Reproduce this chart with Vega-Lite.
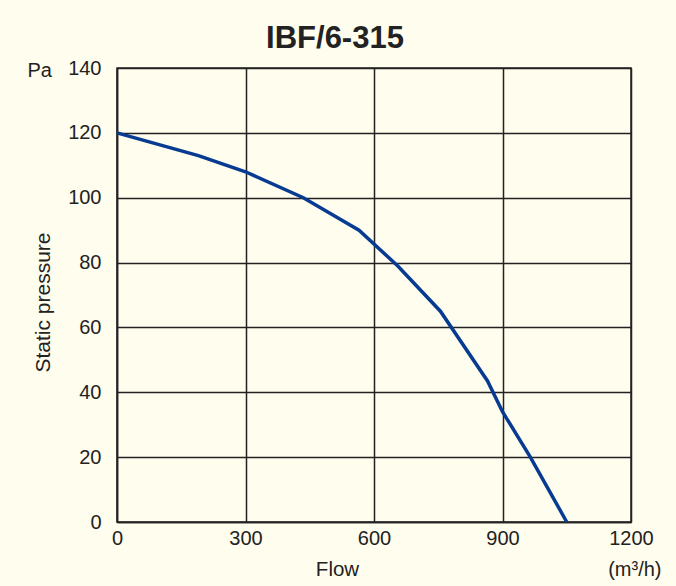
{
  "$schema": "https://vega.github.io/schema/vega-lite/v6.json",
  "autosize": "none",
  "width": 514,
  "height": 454,
  "padding": {"left": 117, "top": 68, "right": 45, "bottom": 64},
  "background": "#fffdee",
  "title": {
    "text": "IBF/6-315",
    "font": "Liberation Sans",
    "fontSize": 31,
    "fontWeight": "bold",
    "color": "#222222",
    "anchor": "middle",
    "baseline": "alphabetic",
    "dx": -39,
    "dy": 41,
    "offset": 20
  },
  "config": {
    "view": {"stroke": "#222222", "strokeWidth": 1.5, "fill": "#fffdee"},
    "axis": {"labelFont": "Liberation Sans", "titleFont": "Liberation Sans"}
  },
  "data": {
    "values": [
      {"flow": 0, "pressure": 120},
      {"flow": 190, "pressure": 113},
      {"flow": 300, "pressure": 108},
      {"flow": 435, "pressure": 100},
      {"flow": 565, "pressure": 90},
      {"flow": 655, "pressure": 79},
      {"flow": 755, "pressure": 65},
      {"flow": 865, "pressure": 43.5},
      {"flow": 900, "pressure": 34},
      {"flow": 965, "pressure": 20},
      {"flow": 1050, "pressure": 0}
    ]
  },
  "layer": [
    {
      "mark": {"type": "line", "color": "#073b92", "strokeWidth": 3.5},
      "encoding": {
        "x": {
          "field": "flow", "type": "quantitative",
          "scale": {"domain": [0, 1200], "nice": false, "zero": false},
          "axis": {
            "orient": "bottom", "title": "Flow", "values": [0, 300, 600, 900, 1200], "format": "d",
            "grid": true, "labelFlush": false,
            "ticks": false, "domainColor": "#222222", "domainWidth": 1.5,
            "gridColor": "#222222", "gridWidth": 1.5, "gridOpacity": 1,
            "labelFontSize": 20, "labelColor": "#222222", "labelPadding": 6,
            "titleX": 220, "titleY": 53, "titleAlign": "center", "titleBaseline": "alphabetic",
            "titleFontSize": 20.5, "titleFontWeight": "normal", "titleColor": "#222222"
          }
        },
        "y": {
          "field": "pressure", "type": "quantitative",
          "scale": {"domain": [0, 140], "nice": false, "zero": false},
          "axis": {
            "orient": "left", "title": "Static pressure", "values": [0, 20, 40, 60, 80, 100, 120, 140],
            "grid": true, "labelFlush": false,
            "ticks": false, "domainColor": "#222222", "domainWidth": 1.5,
            "gridColor": "#222222", "gridWidth": 1.5, "gridOpacity": 1,
            "labelFontSize": 20, "labelColor": "#222222", "labelPadding": 16,
            "titleAngle": -90, "titleX": -68, "titleY": 234, "titleAlign": "center", "titleBaseline": "alphabetic",
            "titleFontSize": 21, "titleFontWeight": "normal", "titleColor": "#222222"
          }
        }
      }
    },
    {
      "mark": {"type": "line", "opacity": 0},
      "encoding": {
        "x": {
          "field": "flow", "type": "quantitative",
          "scale": {"domain": [0, 1200], "nice": false, "zero": false},
          "axis": {
            "orient": "bottom", "title": "(m³/h)", "labels": false, "ticks": false, "domain": false, "grid": false,
            "titleX": 544, "titleY": 53, "titleAlign": "right", "titleBaseline": "alphabetic",
            "titleFontSize": 20, "titleFontWeight": "normal", "titleColor": "#222222"
          }
        },
        "y": {
          "field": "pressure", "type": "quantitative",
          "scale": {"domain": [0, 140], "nice": false, "zero": false},
          "axis": {
            "orient": "left", "title": "Pa", "labels": false, "ticks": false, "domain": false, "grid": false,
            "titleAngle": 0, "titleX": -90, "titleY": 8, "titleAlign": "left", "titleBaseline": "alphabetic",
            "titleFontSize": 20, "titleFontWeight": "normal", "titleColor": "#222222"
          }
        }
      }
    }
  ],
  "resolve": {"axis": {"x": "independent", "y": "independent"}, "scale": {"x": "shared", "y": "shared"}}
}
